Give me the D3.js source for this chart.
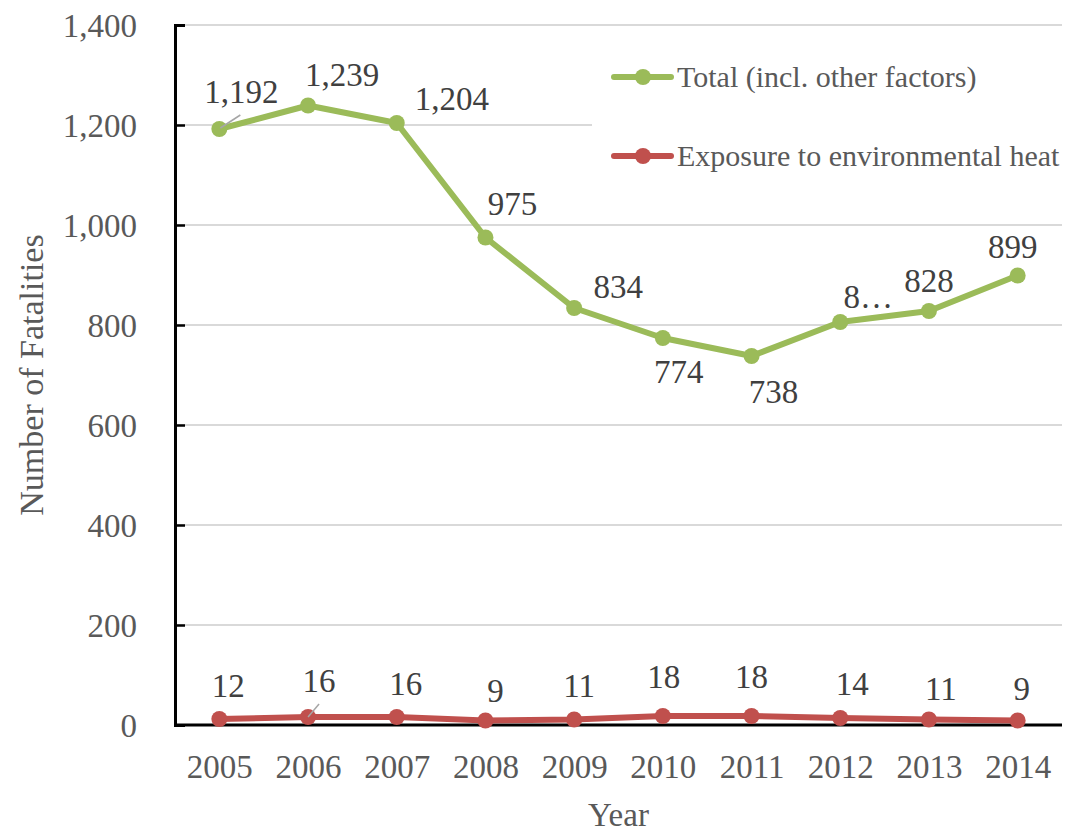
<!DOCTYPE html>
<html>
<head>
<meta charset="utf-8">
<script src="https://cdn.jsdelivr.net/npm/d3@7"></script>
<style>
  html, body { margin: 0; padding: 0; background: #fff; }
  svg { display: block; }
  svg text { font-family: "Liberation Serif", "Times New Roman", serif; }
</style>
</head>
<body>
<svg id="chart" width="1070" height="832"></svg>
<script>
// ---- data ----
const years = ["2005","2006","2007","2008","2009","2010","2011","2012","2013","2014"];
const totalFatalities = [1192, 1239, 1204, 975, 834, 774, 738, 806, 828, 899];
const heatFatalities = [12, 16, 16, 9, 11, 18, 18, 14, 11, 9];
const yTicks = [0, 200, 400, 600, 800, 1000, 1200, 1400];
const seriesNames = ["Total (incl. other factors)", "Exposure to environmental heat"];
const truncatedTotalLabels = { "2012": "8\u2026" };

// ---- layout (label placement offsets relative to each point) ----
const totalLabelOffsets = [[22,-26],[34,-19.5],[55,-13],[27,-22.5],[44,-10],[16,45],[22,47],[28,-14],[0,-19],[-5,-17.5]];
const heatLabelOffsets  = [[9,-22],[11,-25],[9,-22],[10,-18.5],[5,-22.5],[1,-28],[0,-28],[12,-23],[12,-19.5],[4,-20.5]];
const leaderLines = { total: { "2005": [[1,-1],[21,-14]] }, heat: { "2006": [[0,0],[11,-13]] } };

const W = 1070, H = 832;
const plot = { left: 175, right: 1062, top: 25, bottom: 725 };
const green = "#9BBB59", red = "#C0504D";
const serif = "'Liberation Serif', 'Times New Roman', serif";

const svg = d3.select("#chart");

const x = d3.scalePoint().domain(years).range([plot.left, plot.right]).padding(0.5);
const y = d3.scaleLinear().domain([0, 1400]).range([plot.bottom, plot.top]);
const fmt = d3.format(",");

// gridlines
svg.append("g").selectAll("line").data(yTicks.filter(d => d > 0)).join("line")
  .attr("x1", plot.left).attr("x2", plot.right)
  .attr("y1", d => y(d)).attr("y2", d => y(d))
  .attr("stroke", "#d9d9d9").attr("stroke-width", 2);

// legend background (covers gridline behind it)
const lg = svg.append("g");
lg.append("rect").attr("x", 592).attr("y", 45).attr("width", 478).attr("height", 150).attr("fill", "#fff");

// y axis
const yAxis = svg.append("g").attr("transform", `translate(${plot.left},0)`)
  .call(d3.axisLeft(y).tickValues(yTicks).tickFormat(fmt).tickSize(-10).tickPadding(38));
yAxis.attr("font-family", serif);
yAxis.select(".domain").attr("stroke", "#000").attr("stroke-width", 3);
yAxis.selectAll(".tick line").attr("stroke", "#000").attr("stroke-width", 2.5);
yAxis.selectAll(".tick text").attr("font-size", 33).attr("fill", "#595959").attr("dy", "0.34em");

// x axis
const xAxis = svg.append("g").attr("transform", `translate(0,${plot.bottom})`)
  .call(d3.axisBottom(x).tickSize(0).tickPadding(46));
xAxis.attr("font-family", serif);
xAxis.select(".domain").attr("stroke", "#000").attr("stroke-width", 3)
  .attr("d", `M${plot.left},0H${plot.right}`);
xAxis.selectAll(".tick text").attr("font-size", 33).attr("fill", "#595959").attr("dy", "0.2em");

// axis titles
svg.append("text").attr("x", (plot.left + plot.right) / 2).attr("y", 826)
  .attr("text-anchor", "middle").attr("font-size", 33).attr("fill", "#595959").text("Year");
svg.append("text").attr("transform", `translate(43,${(plot.top + plot.bottom) / 2}) rotate(-90)`)
  .attr("text-anchor", "middle").attr("font-size", 34).attr("fill", "#595959").text("Number of Fatalities");

// series
const series = [
  { key: "total", values: totalFatalities, color: green, offsets: totalLabelOffsets },
  { key: "heat", values: heatFatalities, color: red, offsets: heatLabelOffsets }
];
const line = d3.line().x((d, i) => x(years[i])).y(d => y(d));

series.forEach(s => {
  const g = svg.append("g");
  g.append("path").datum(s.values).attr("d", line)
    .attr("fill", "none").attr("stroke", s.color).attr("stroke-width", 6)
    .attr("stroke-linejoin", "round").attr("stroke-linecap", "round");
  g.selectAll("circle").data(s.values).join("circle")
    .attr("cx", (d, i) => x(years[i])).attr("cy", d => y(d)).attr("r", 8)
    .attr("fill", s.color);
  const ll = leaderLines[s.key];
  Object.keys(ll).forEach(yr => {
    const i = years.indexOf(yr);
    const px = x(yr), py = y(s.values[i]);
    g.append("line")
      .attr("x1", px + ll[yr][0][0]).attr("y1", py + ll[yr][0][1])
      .attr("x2", px + ll[yr][1][0]).attr("y2", py + ll[yr][1][1])
      .attr("stroke", "#a6a6a6").attr("stroke-width", 1.5);
  });
  g.selectAll("text.lbl").data(s.values).join("text").attr("class", "lbl")
    .attr("x", (d, i) => x(years[i]) + s.offsets[i][0])
    .attr("y", (d, i) => y(d) + s.offsets[i][1])
    .attr("text-anchor", "middle").attr("font-size", 33).attr("fill", "#404040")
    .text((d, i) => (s.key === "total" && truncatedTotalLabels[years[i]]) ? truncatedTotalLabels[years[i]] : fmt(d));
});

// legend
const legendRows = [{ name: seriesNames[0], color: green, y: 77 }, { name: seriesNames[1], color: red, y: 156 }];
legendRows.forEach(r => {
  lg.append("line").attr("x1", 614).attr("x2", 671).attr("y1", r.y).attr("y2", r.y)
    .attr("stroke", r.color).attr("stroke-width", 6).attr("stroke-linecap", "round");
  lg.append("circle").attr("cx", 643).attr("cy", r.y).attr("r", 8).attr("fill", r.color);
  lg.append("text").attr("x", 677).attr("y", r.y).attr("dy", "0.33em")
    .attr("font-size", 30).attr("fill", "#595959").text(r.name);
});
</script>
</body>
</html>
